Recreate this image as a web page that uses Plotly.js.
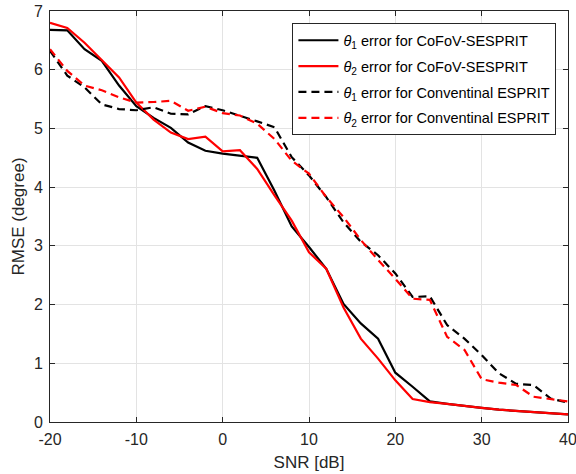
<!DOCTYPE html>
<html>
<head>
<meta charset="utf-8">
<script src="https://cdn.plot.ly/plotly-3.0.1.min.js"></script>
<style>html,body{margin:0;padding:0;background:#fff;}#chart{width:576px;height:474px;}</style>
</head>
<body>
<div id="chart"></div>
<script>
const snr = [-20,-18,-16,-14,-12,-10,-8,-6,-4,-2,0,2,4,6,8,10,12,14,16,18,20,22,24,26,28,30,32,34,36,38,40];
const theta1CoFoV = [6.68,6.67,6.35,6.15,5.73,5.38,5.18,5.01,4.76,4.62,4.57,4.54,4.50,3.94,3.33,2.98,2.61,2.01,1.68,1.42,0.84,0.60,0.35,0.31,0.27,0.24,0.21,0.19,0.16,0.15,0.13];
const theta2CoFoV = [6.80,6.71,6.46,6.17,5.87,5.44,5.15,4.93,4.82,4.86,4.61,4.63,4.31,3.86,3.43,2.89,2.61,1.95,1.42,1.08,0.71,0.39,0.34,0.31,0.27,0.24,0.21,0.19,0.17,0.15,0.13];
const theta1Conv = [6.32,5.90,5.70,5.41,5.33,5.31,5.36,5.25,5.24,5.38,5.31,5.22,5.12,5.02,4.51,4.20,3.83,3.40,3.07,2.84,2.53,2.13,2.14,1.65,1.42,1.14,0.83,0.65,0.63,0.40,0.33];
const theta2Conv = [6.35,5.98,5.73,5.65,5.53,5.44,5.45,5.47,5.30,5.37,5.26,5.22,5.08,4.82,4.45,4.23,3.83,3.49,3.10,2.76,2.44,2.10,2.08,1.45,1.23,0.73,0.67,0.63,0.43,0.39,0.35];
const seriesNames = [
  '<i>θ</i><sub>1</sub> error for CoFoV-SESPRIT',
  '<i>θ</i><sub>2</sub> error for CoFoV-SESPRIT',
  '<i>θ</i><sub>1</sub> error for Conventinal ESPRIT',
  '<i>θ</i><sub>2</sub> error for Conventinal ESPRIT'
];
const xTicks = [-20,-10,0,10,20,30,40];
const yTicks = [0,1,2,3,4,5,6,7];

const dashPat = '8px,5px';
const traces = [
  {x: snr, y: theta1CoFoV, name: seriesNames[0], legendgroup: 'a', mode: 'lines', line: {color: '#000000', width: 2.2}},
  {x: snr, y: theta2CoFoV, name: seriesNames[1], legendgroup: 'b', mode: 'lines', line: {color: '#ff0000', width: 2.2}},
  {x: snr, y: theta1Conv, name: seriesNames[2], legendgroup: 'c', mode: 'lines', line: {color: '#000000', width: 2.2, dash: dashPat}},
  {x: snr, y: theta2Conv, name: seriesNames[3], legendgroup: 'd', mode: 'lines', line: {color: '#ff0000', width: 2.2, dash: dashPat}}
];

const fam = 'Liberation Sans, Arial, sans-serif';
const axisCommon = {
  showline: true, linecolor: '#262626', linewidth: 1, mirror: 'allticks',
  ticks: 'inside', ticklen: 5, tickcolor: '#262626', tickwidth: 1,
  showgrid: true, gridcolor: '#e3e3e3', gridwidth: 1, zeroline: false,
  ticklabeloverflow: 'allow',
  tickfont: {family: fam, size: 16, color: '#262626'}
};

const layout = {
  width: 576, height: 474,
  margin: {l: 49.5, r: 7.5, t: 10.5, b: 52},
  paper_bgcolor: '#ffffff', plot_bgcolor: '#ffffff',
  showlegend: true,
  font: {family: fam, color: '#262626'},
  xaxis: Object.assign({}, axisCommon, {
    range: [-20, 40], tickvals: xTicks, ticktext: xTicks.map(String),
    ticklabelstandoff: 3,
    title: {text: 'SNR [dB]', font: {family: fam, size: 17, color: '#262626'}, standoff: 8}
  }),
  yaxis: Object.assign({}, axisCommon, {
    range: [0, 7], tickvals: yTicks, ticktext: yTicks.map(String),
    ticklabelstandoff: 3,
    title: {text: 'RMSE (degree)', font: {family: fam, size: 17, color: '#262626'}, standoff: 4}
  }),
  legend: {
    x: 0.468, y: 0.97, xanchor: 'left', yanchor: 'top',
    bgcolor: '#ffffff', bordercolor: '#262626', borderwidth: 1,
    font: {family: fam, size: 14.5, color: '#000000'},
    itemwidth: 40, tracegroupgap: 4
  }
};

Plotly.newPlot('chart', traces, layout, {displayModeBar: false, staticPlot: true});
</script>
</body>
</html>
